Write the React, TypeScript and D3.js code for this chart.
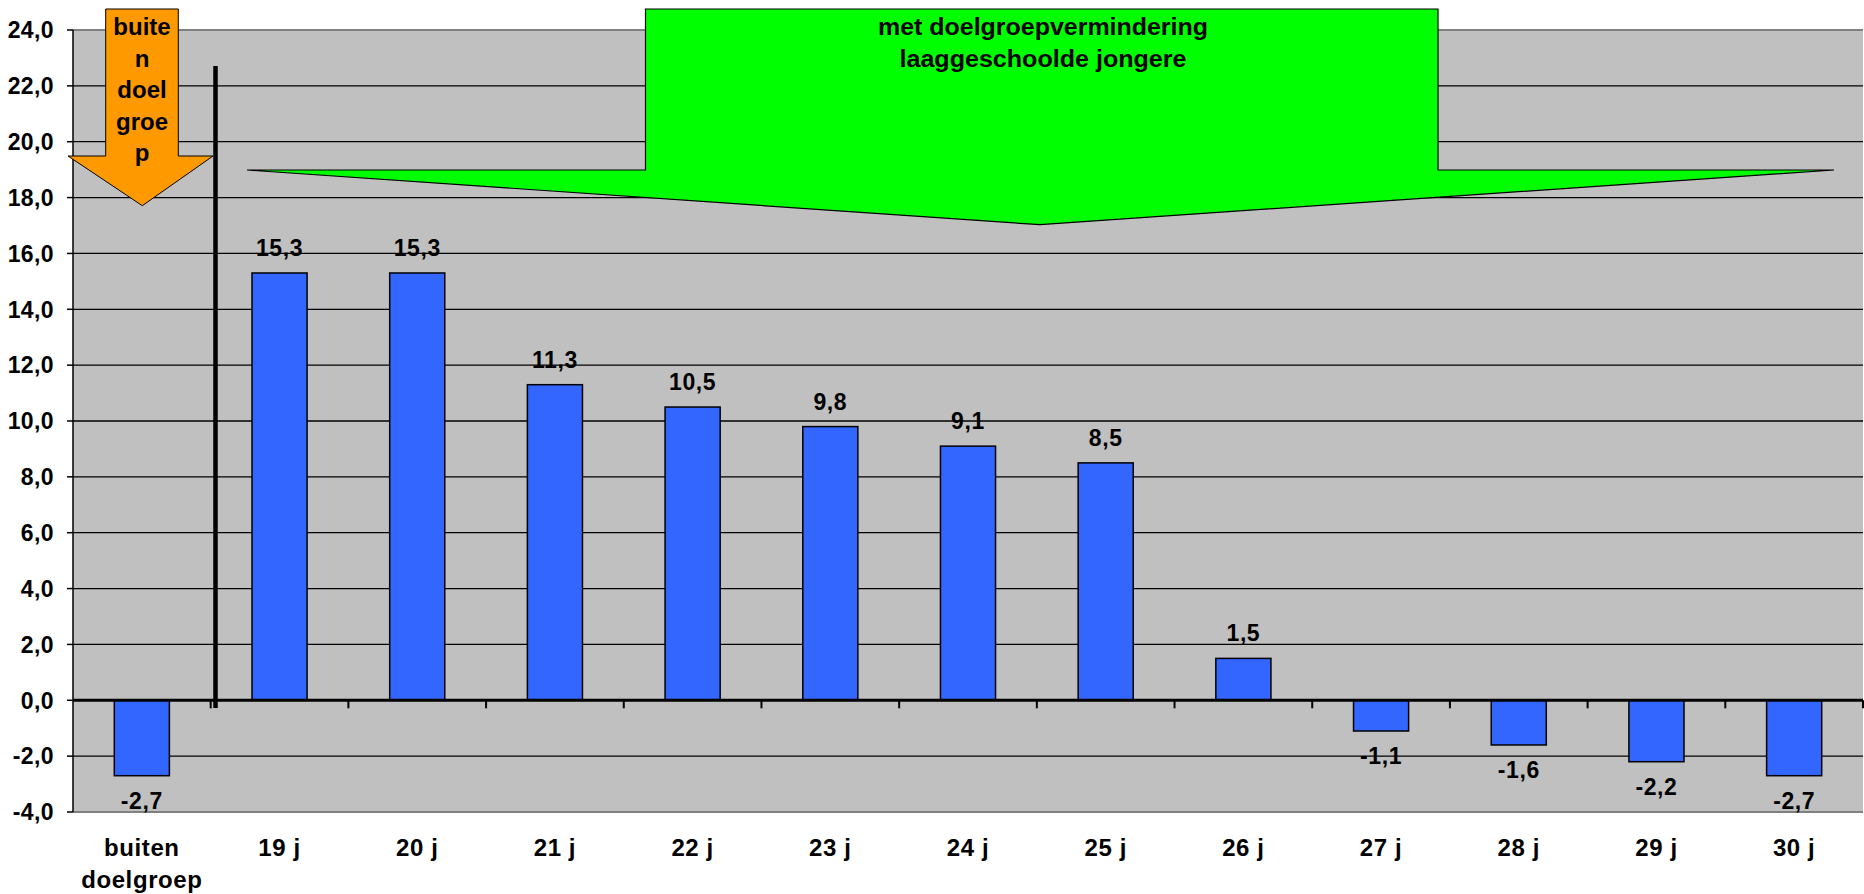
import React from "react";
import { scaleBand, scaleLinear, range } from "d3";

// categorieën en waarden
const categories = [
  "buiten\ndoelgroep",
  "19 j",
  "20 j",
  "21 j",
  "22 j",
  "23 j",
  "24 j",
  "25 j",
  "26 j",
  "27 j",
  "28 j",
  "29 j",
  "30 j",
];
const values = [-2.7, 15.3, 15.3, 11.3, 10.5, 9.8, 9.1, 8.5, 1.5, -1.1, -1.6, -2.2, -2.7];
const yTicks = range(-4, 24.01, 2);
const orangeLines = ["buite", "n", "doel", "groe", "p"];
const greenLines = ["met doelgroepvermindering", "laaggeschoolde jongere"];

const fmt = (v: number) => v.toFixed(1).replace(".", ",");

export default function App() {
  const width = 1864;
  const height = 894;
  const margin = { top: 30, right: 1, bottom: 82, left: 73 };
  const font = "'Liberation Sans', Arial, sans-serif";

  const x = scaleBand<string>()
    .domain(categories)
    .range([margin.left, width - margin.right])
    .paddingInner(0.6)
    .paddingOuter(0.3);
  const step = x.step();

  const y = scaleLinear()
    .domain([-4, 24])
    .range([height - margin.bottom, margin.top]);

  const plotL = margin.left;
  const plotR = width - margin.right;

  return (
    <div style={{ position: "fixed", left: 0, top: 0 }}>
      <svg width={width} height={height} style={{ display: "block", fontFamily: font }}>
        <rect x={0} y={0} width={width} height={height} fill="#fff" />
        {/* plotvlak */}
        <rect x={plotL} y={y(24)} width={plotR - plotL} height={y(-4) - y(24)} fill="#C0C0C0" />
        {/* rasterlijnen */}
        {yTicks.map((t) => (
          <line
            key={t}
            x1={plotL}
            x2={plotR}
            y1={y(t)}
            y2={y(t)}
            stroke={t === 24 || t === -4 ? "#808080" : "#000"}
            strokeWidth={t === 24 || t === -4 ? 2 : 1.3}
          />
        ))}
        {/* y-as */}
        <line x1={plotL} x2={plotL} y1={y(24)} y2={y(-4)} stroke="#000" strokeWidth={1.5} />
        {yTicks.map((t) => (
          <g key={`yt-${t}`}>
            <line x1={plotL - 6} x2={plotL} y1={y(t)} y2={y(t)} stroke="#000" strokeWidth={1.5} />
            <text
              x={plotL - 19}
              y={y(t)}
              dy="0.36em"
              textAnchor="end"
              fontSize={23}
              letterSpacing={0.4}
              fontWeight="bold"
            >
              {fmt(t)}
            </text>
          </g>
        ))}
        {/* staven */}
        {categories.map((c, i) => {
          const v = values[i];
          const y0 = y(Math.max(0, v));
          const h = Math.abs(y(v) - y(0));
          const cx = (x(c) ?? 0) + x.bandwidth() / 2;
          return (
            <g key={c}>
              <rect
                x={x(c)}
                y={y0}
                width={x.bandwidth()}
                height={h}
                fill="#3366FF"
                stroke="#000"
                strokeWidth={1.5}
              />
              <text
                x={cx}
                y={v >= 0 ? y(v) - 17 : y(v) + 33}
                textAnchor="middle"
                fontSize={23}
                letterSpacing={0.6}
                fontWeight="bold"
              >
                {fmt(v)}
              </text>
            </g>
          );
        })}
        {/* nullijn met streepjes */}
        <line x1={plotL} x2={plotR} y1={y(0)} y2={y(0)} stroke="#000" strokeWidth={3} />
        {categories.map((c, i) => (
          <line
            key={`xt-${i}`}
            x1={plotL + step * (i + 1)}
            x2={plotL + step * (i + 1)}
            y1={y(0)}
            y2={y(0) + 8}
            stroke="#000"
            strokeWidth={2}
          />
        ))}
        {/* categorie labels */}
        {categories.map((c) => {
          const cx = (x(c) ?? 0) + x.bandwidth() / 2;
          return (
            <text
              key={`xl-${c}`}
              x={cx}
              y={856}
              textAnchor="middle"
              fontSize={24}
              letterSpacing={0.6}
              fontWeight="bold"
            >
              {c.split("\n").map((l, j) => (
                <tspan key={j} x={cx} dy={j === 0 ? 0 : 32}>
                  {l}
                </tspan>
              ))}
            </text>
          );
        })}
        {/* scheidingslijn */}
        <line x1={215.5} x2={215.5} y1={66} y2={708} stroke="#000" strokeWidth={4.5} />
        {/* oranje pijl */}
        <path
          d="M105.7,9 L178.3,9 L178.3,156 L213,156 L142.3,205.7 L68,156 L105.7,156 Z"
          fill="#FF9900"
          stroke="#000"
          strokeWidth={1}
        />
        {orangeLines.map((l, i) => (
          <text
            key={`o-${i}`}
            x={142}
            y={35 + i * 31.5}
            textAnchor="middle"
            fontSize={24}
            fontWeight="bold"
          >
            {l}
          </text>
        ))}
        {/* groene pijl */}
        <path
          d="M645.5,9 L1438,9 L1438,170 L1834,170 L1040,224.7 L247,170 L645.5,170 Z"
          fill="#00FF00"
          stroke="#000"
          strokeWidth={1.2}
        />
        {greenLines.map((l, i) => (
          <text
            key={`g-${i}`}
            x={1043}
            y={35 + i * 31.7}
            textAnchor="middle"
            fontSize={23}
            fontWeight="bold"
            textLength={i === 0 ? 330 : 287}
            lengthAdjust="spacingAndGlyphs"
          >
            {l}
          </text>
        ))}
      </svg>
    </div>
  );
}
